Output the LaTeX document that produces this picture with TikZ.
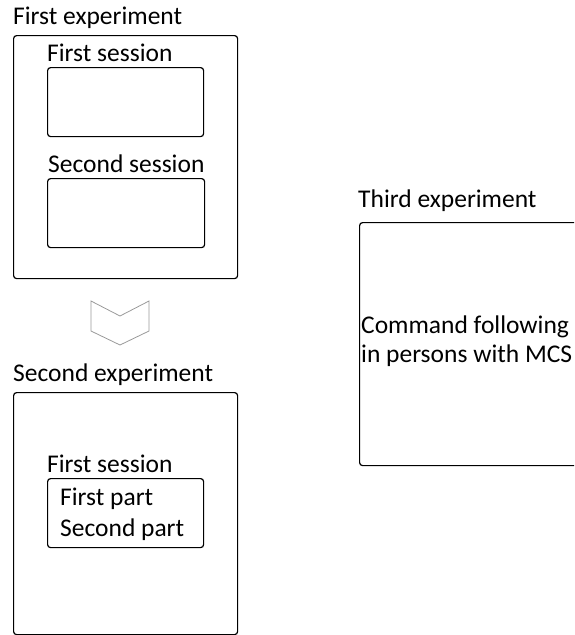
\documentclass[tikz,border=0pt]{standalone}
\usepackage{fontspec}
\setmainfont{Carlito}
\usetikzlibrary{positioning}
\tikzset{
  expbox/.style={
    draw=black, line width=1.2pt, rounded corners=3pt,
    anchor=north west, inner sep=0pt,
  },
  sessbox/.style={
    draw=black, line width=1.2pt, rounded corners=3pt,
    anchor=north west, inner sep=0pt,
  },
  title/.style={
    anchor=base west, inner sep=0pt, font=\fontsize{25.5}{30}\selectfont
  },
  chevron/.style={
    draw=gray!80, line width=0.8pt, line join=miter
  }
}
\begin{document}
\begin{tikzpicture}[x=1pt, y=-1pt]
  \clip (0,0) rectangle (574,635);
  % first experiment
  \node[title] (lab1) at (13,24) {First experiment};
  \node[expbox, minimum width=224pt, minimum height=243pt] (exp1) at (13,35) {};
  \node[title] (lab11) at (47,61) {First session};
  \node[sessbox, minimum width=156pt, minimum height=69pt] (sess1) at (47,67) {};
  \node[title] (lab12) at (48,172) {Second session};
  \node[sessbox, minimum width=157pt, minimum height=69pt] (sess2) at (47,178) {};
  % arrow down
  \draw[chevron] (91,301) -- (120,316) -- (149,301) -- (149,331) -- (120,345) -- (91,331) -- cycle;
  % second experiment
  \node[title] (lab2) at (13,381) {Second experiment};
  \node[expbox, minimum width=224pt, minimum height=242pt] (exp2) at (13,392) {};
  \node[title] (lab21) at (47,472) {First session};
  \node[sessbox, minimum width=156pt, minimum height=69pt] (sess3) at (47,478) {};
  \node[title] (part1) at (60,505) {First part};
  \node[title] (part2) at (60,536) {Second part};
  % third experiment
  \node[title] (lab3) at (358,207) {Third experiment};
  \node[expbox, minimum width=260pt, minimum height=243pt] (exp3) at (359,222) {};
  \node[title] (cmd1) at (361,333) {Command following};
  \node[title] (cmd2) at (361,362) {in persons with MCS};
\end{tikzpicture}
\end{document}
